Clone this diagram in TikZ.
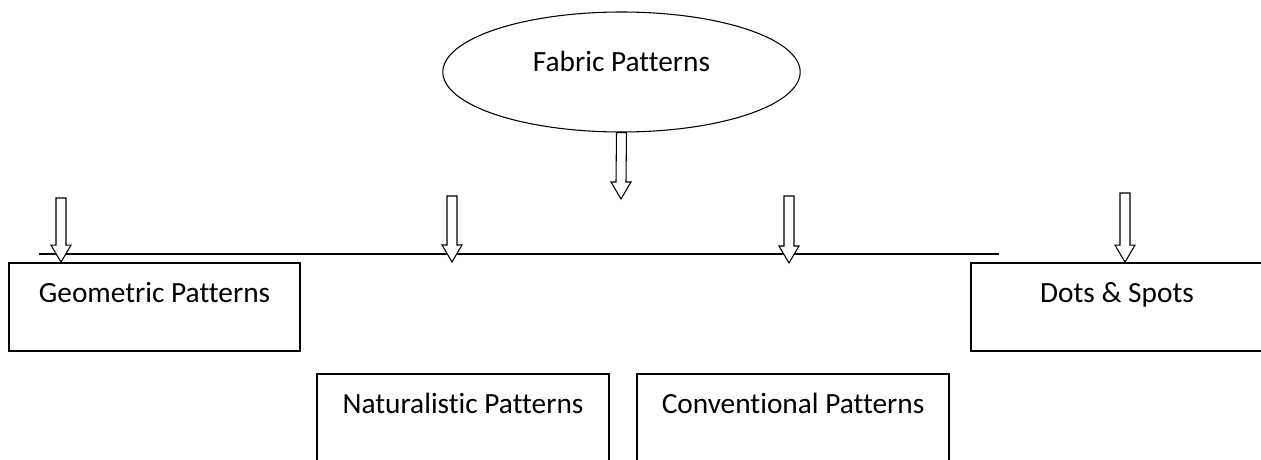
\documentclass[tikz,border=0pt]{standalone}
\usepackage{fontspec}
\setmainfont{Carlito}[Ligatures={NoCommon}]
\usetikzlibrary{positioning, shapes.geometric, calc}

%% hollow block arrow from top point #1 down to tip #2
\newcommand{\blockarrow}[2]{%
  \draw[hollowarrow]
    ($(#1)+(-5,0)$) -- ($(#2)+(-5,-17)$) -- ($(#2)+(-10,-17)$) -- (#2)
    -- ($(#2)+(10,-17)$) -- ($(#2)+(5,-17)$) -- ($(#1)+(5,0)$) -- cycle;
}

\begin{document}
\begin{tikzpicture}[
  x=0.75pt, y=-0.75pt,
  font=\fontsize{22}{26}\selectfont,
  %% Node styles
  topic/.style={
    draw=black, line width=0.8pt, shape=ellipse, inner sep=0pt,
    minimum width=268pt, minimum height=90pt,
    text height=15pt, text depth=15pt
  },
  kind/.style={
    draw=black, line width=1.3pt, inner sep=0pt,
    minimum height=66pt, text height=15pt, text depth=21.75pt
  },
  hollowarrow/.style={draw=black, line width=0.8pt, fill=white},
  rail/.style={draw=black, line width=0.8pt},
]
\useasboundingbox (0,0) rectangle (1261,460);

%% ── MAIN NODES ────────────────────────────────────────────────────────────
\node[topic] (fabric) at (621.5, 72) {Fabric Patterns};

\node[kind, minimum width=218pt] (geometric)    at (154.5, 307) {Geometric Patterns};
\node[kind, minimum width=219pt] (naturalistic) at (463, 418)   {Naturalistic Patterns};
\node[kind, minimum width=234pt] (conventional) at (793, 418)   {Conventional Patterns};
\node[kind, minimum width=219pt] (dots)         at (1117, 307)  {Dots \& Spots};

%% ── RAIL ──────────────────────────────────────────────────────────────────
\coordinate (railL) at (39, 254);
\coordinate (railR) at (999, 254);
\draw[rail] (railL) -- (railR);

%% ── ARROWS ────────────────────────────────────────────────────────────────
%% Fabric → rail
\coordinate (tip0) at (621, 199);
\blockarrow{fabric.south}{tip0}

%% rail → Geometric
\coordinate (top1) at (61, 198);
\coordinate (tip1) at (top1 |- geometric.north);
\blockarrow{top1}{tip1}

%% rail → Naturalistic
\coordinate (top2) at (452, 196);
\coordinate (tip2) at (452, 262);
\blockarrow{top2}{tip2}

%% rail → Conventional
\coordinate (top3) at (789, 196);
\coordinate (tip3) at (789, 263);
\blockarrow{top3}{tip3}

%% rail → Dots & Spots
\coordinate (top4) at (1125, 193);
\coordinate (tip4) at (top4 |- dots.north);
\blockarrow{top4}{tip4}

\end{tikzpicture}
\end{document}
